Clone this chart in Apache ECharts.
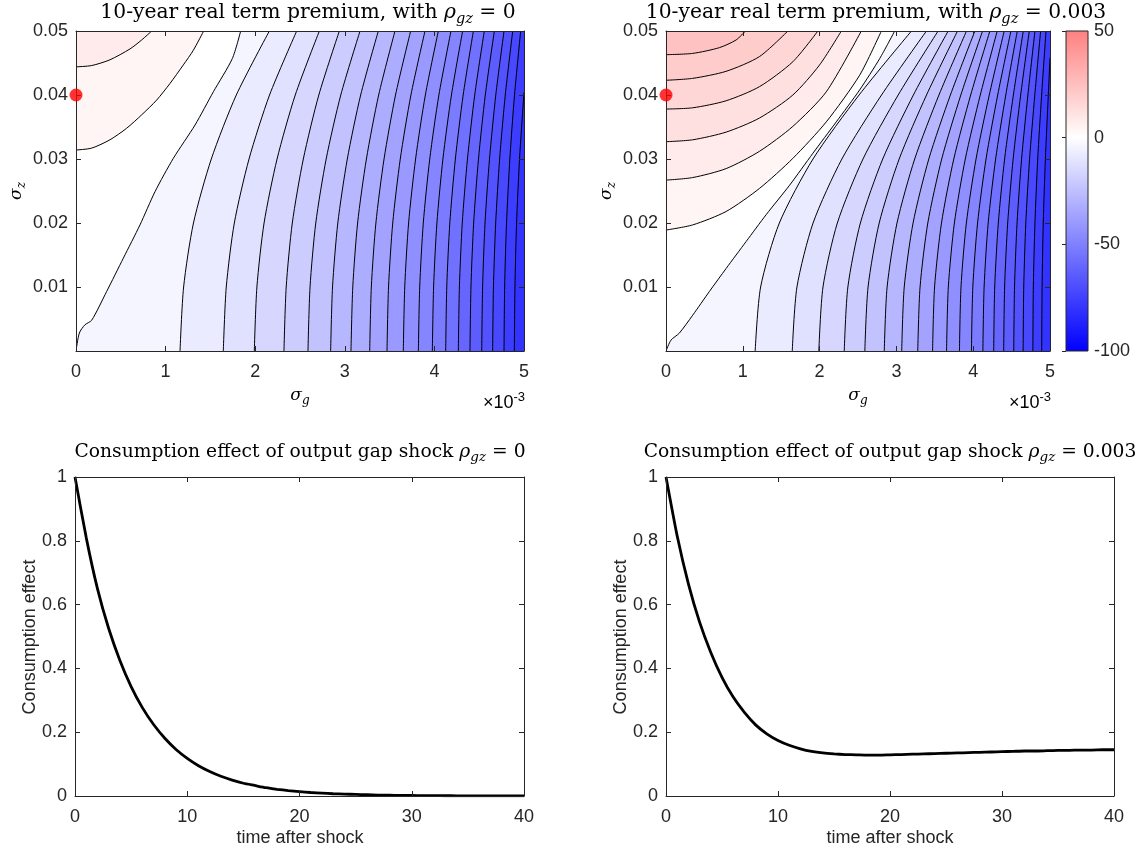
<!DOCTYPE html>
<html><head><meta charset="utf-8">
<script src="https://cdn.jsdelivr.net/npm/echarts@6/dist/echarts.min.js"></script>
<style>html,body{margin:0;padding:0;background:#fff}#c{width:1141px;height:852px}</style>
</head><body><div id="c"></div><script>
// ================= DATA =================
// sigma_g axis is in units of 1e-3 (as labelled "x10^-3")
const sigmaGRange = [0, 5];
const sigmaZRange = [0, 0.05];
const colorbarRange = [-100, 50];
const calibPoint = [0, 0.04];

// ---- 10-year real term premium, rho_gz = 0 : contour lines ([sigma_g, sigma_z]) ----
const negLevels0 = [0,-4,-8,-12,-16,-20,-24,-28,-32,-36,-40,-44,-48,-52,-56,-60,-64,-68,-72,-76];
const negLines0 = [
 [[0,0],[0.037,0.0028],[0.100,0.0041],[0.175,0.0048],[0.342,0.0093],[0.528,0.0145],[0.714,0.0197],[0.882,0.0249],[1.086,0.0301],[1.328,0.0353],[1.533,0.0405],[1.745,0.0457],[1.838,0.05]],
 [[1.161,0],[1.201,0.01],[1.311,0.02],[1.510,0.03],[1.789,0.04],[2.158,0.05]],
 [[1.644,0],[1.677,0.01],[1.767,0.02],[1.931,0.03],[2.160,0.04],[2.463,0.05]],
 [[1.990,0],[2.019,0.01],[2.099,0.02],[2.244,0.03],[2.447,0.04],[2.716,0.05]],
 [[2.321,0],[2.346,0.01],[2.414,0.02],[2.537,0.03],[2.710,0.04],[2.939,0.05]],
 [[2.589,0],[2.612,0.01],[2.676,0.02],[2.792,0.03],[2.955,0.04],[3.170,0.05]],
 [[2.842,0],[2.863,0.01],[2.922,0.02],[3.028,0.03],[3.177,0.04],[3.374,0.05]],
 [[3.069,0],[3.089,0.01],[3.143,0.02],[3.241,0.03],[3.378,0.04],[3.560,0.05]],
 [[3.278,0],[3.296,0.01],[3.347,0.02],[3.438,0.03],[3.566,0.04],[3.735,0.05]],
 [[3.471,0],[3.488,0.01],[3.535,0.02],[3.619,0.03],[3.738,0.04],[3.895,0.05]],
 [[3.653,0],[3.669,0.01],[3.712,0.02],[3.790,0.03],[3.899,0.04],[4.044,0.05]],
 [[3.821,0],[3.836,0.01],[3.876,0.02],[3.948,0.03],[4.050,0.04],[4.185,0.05]],
 [[3.977,0],[3.991,0.01],[4.028,0.02],[4.095,0.03],[4.190,0.04],[4.315,0.05]],
 [[4.126,0],[4.138,0.01],[4.172,0.02],[4.234,0.03],[4.321,0.04],[4.435,0.05]],
 [[4.267,0],[4.279,0.01],[4.311,0.02],[4.369,0.03],[4.450,0.04],[4.557,0.05]],
 [[4.397,0],[4.408,0.01],[4.438,0.02],[4.492,0.03],[4.568,0.04],[4.669,0.05]],
 [[4.528,0],[4.538,0.01],[4.565,0.02],[4.615,0.03],[4.685,0.04],[4.777,0.05]],
 [[4.650,0],[4.659,0.01],[4.684,0.02],[4.728,0.03],[4.791,0.04],[4.874,0.05]],
 [[4.777,0],[4.784,0.01],[4.805,0.02],[4.842,0.03],[4.894,0.04],[4.963,0.05]],
 [[4.892,0],[4.899,0.01],[4.917,0.02],[4.950,0.03],[4.998,0.04],[5.0,0.0404]]
];
const posLevels0 = [4, 8];
const posLines0 = [
 [[0,0.0314],[0.175,0.0317],[0.379,0.0330],[0.565,0.0348],[0.733,0.0369],[0.900,0.0392],[1.049,0.0418],[1.198,0.0447],[1.310,0.0470],[1.425,0.05]],
 [[0,0.0444],[0.175,0.0446],[0.379,0.0455],[0.603,0.0472],[0.733,0.0486],[0.845,0.05]]
];

// ---- 10-year real term premium, rho_gz = 0.003 : contour lines ----
const negLevels3 = [0,-4,-8,-12,-16,-20,-24,-28,-32,-36,-40,-44,-48,-52,-56,-60,-64,-68,-72,-76];
const negLines3 = [
 [[0,0],[0.065,0.0017],[0.174,0.0028],[0.348,0.0056],[0.565,0.0093],[0.783,0.0129],[1.043,0.0171],[1.304,0.0213],[1.609,0.0259],[1.913,0.0309],[2.217,0.0358],[2.522,0.0408],[2.783,0.0457],[2.978,0.05]],
 [[1.161,0],[1.232,0.01],[1.476,0.02],[1.914,0.03],[2.514,0.04],[3.196,0.05]],
 [[1.644,0],[1.705,0.01],[1.915,0.02],[2.290,0.03],[2.806,0.04],[3.391,0.05]],
 [[1.990,0],[2.044,0.01],[2.231,0.02],[2.565,0.03],[3.023,0.04],[3.543,0.05]],
 [[2.321,0],[2.368,0.01],[2.531,0.02],[2.822,0.03],[3.221,0.04],[3.674,0.05]],
 [[2.589,0],[2.631,0.01],[2.776,0.02],[3.036,0.03],[3.392,0.04],[3.796,0.05]],
 [[2.842,0],[2.879,0.01],[3.008,0.02],[3.238,0.03],[3.554,0.04],[3.913,0.05]],
 [[3.069,0],[3.102,0.01],[3.217,0.02],[3.422,0.03],[3.703,0.04],[4.022,0.05]],
 [[3.278,0],[3.308,0.01],[3.409,0.02],[3.590,0.03],[3.839,0.04],[4.122,0.05]],
 [[3.471,0],[3.497,0.01],[3.587,0.02],[3.747,0.03],[3.967,0.04],[4.217,0.05]],
 [[3.653,0],[3.676,0.01],[3.755,0.02],[3.897,0.03],[4.092,0.04],[4.313,0.05]],
 [[3.821,0],[3.841,0.01],[3.911,0.02],[4.037,0.03],[4.209,0.04],[4.404,0.05]],
 [[3.977,0],[3.995,0.01],[4.057,0.02],[4.167,0.03],[4.319,0.04],[4.491,0.05]],
 [[4.126,0],[4.142,0.01],[4.195,0.02],[4.292,0.03],[4.424,0.04],[4.574,0.05]],
 [[4.267,0],[4.280,0.01],[4.327,0.02],[4.409,0.03],[4.523,0.04],[4.652,0.05]],
 [[4.397,0],[4.409,0.01],[4.449,0.02],[4.520,0.03],[4.618,0.04],[4.730,0.05]],
 [[4.528,0],[4.538,0.01],[4.571,0.02],[4.630,0.03],[4.712,0.04],[4.804,0.05]],
 [[4.650,0],[4.658,0.01],[4.685,0.02],[4.734,0.03],[4.802,0.04],[4.878,0.05]],
 [[4.777,0],[4.783,0.01],[4.804,0.02],[4.840,0.03],[4.891,0.04],[4.948,0.05]],
 [[4.892,0],[4.897,0.01],[4.912,0.02],[4.940,0.03],[4.978,0.04],[5.0,0.0458]]
];
const posLevels3 = [4, 8, 12, 16, 20, 24];
const posLines3 = [
 [[0,0.0189],[0.348,0.0197],[0.783,0.0218],[1.217,0.0254],[1.652,0.0301],[2.087,0.0358],[2.522,0.0431],[2.804,0.05]],
 [[0,0.0267],[0.348,0.0271],[0.783,0.0285],[1.217,0.0312],[1.652,0.0351],[2.087,0.0405],[2.543,0.05]],
 [[0,0.0327],[0.348,0.0330],[0.783,0.0342],[1.217,0.0364],[1.652,0.0400],[2.0,0.0447],[2.283,0.05]],
 [[0,0.0378],[0.348,0.0380],[0.783,0.0391],[1.217,0.0413],[1.652,0.0452],[1.978,0.05]],
 [[0,0.0423],[0.348,0.0426],[0.783,0.0437],[1.217,0.0460],[1.587,0.05]],
 [[0,0.0463],[0.348,0.0465],[0.696,0.0474],[0.913,0.0486],[1.035,0.05]]
];

// ---- Consumption effect of output gap shock ----
const timeAfterShock = [0,1,2,3,4,5,6,7,8,9,10,11,12,13,14,15,16,17,18,19,20,21,22,23,24,25,26,27,28,29,30,31,32,33,34,35,36,37,38,39,40];
const consEffect0 = [1.0,0.81,0.65,0.525,0.425,0.343,0.277,0.224,0.181,0.146,0.118,0.095,0.077,0.062,0.050,0.040,0.033,0.026,0.021,0.017,0.014,0.011,0.009,0.007,0.006,0.005,0.004,0.003,0.0025,0.002,0.0016,0.0013,0.001,0.0008,0.0007,0.0005,0.0004,0.0003,0.0003,0.0002,0.0002];
const consEffect3 = [1.0,0.815,0.665,0.545,0.45,0.372,0.31,0.262,0.223,0.195,0.174,0.159,0.148,0.140,0.135,0.132,0.130,0.129,0.128,0.128,0.129,0.130,0.131,0.132,0.133,0.134,0.135,0.136,0.137,0.138,0.139,0.140,0.141,0.141,0.142,0.143,0.143,0.144,0.144,0.145,0.145];

// ================= STYLE / LAYOUT =================
const SERIF = "'DejaVu Serif', serif";
const SANS = "'Liberation Sans', Arial, Helvetica, sans-serif";
const INK = '#262626';
const cmap = ['#0000ff','#4040ff','#8080ff','#bfbfff','#ffffff','#ffbfbf','#ff8080']; // -100 .. 50
const TICK_FS = 18;

const grids = [
  {left:76, top:31, width:448, height:320},
  {left:666, top:31, width:384, height:320},
  {left:75, top:477, width:449, height:319},
  {left:666, top:477, width:448, height:319},
  {left:1066, top:31, width:22, height:320}
];

function axis(dim, gi, min, max, interval, mirror, fmt) {
  return {
    type:'value', gridIndex:gi, min:min, max:max, interval:interval, z:5,
    position: dim === 'x' ? (mirror ? 'top' : 'bottom') : (mirror ? 'right' : 'left'),
    axisLine:{show:true, onZero:false, lineStyle:{color:INK, width:1}},
    axisTick:{show:true, inside:true, length:5, lineStyle:{color:INK, width:1}},
    splitLine:{show:false},
    axisLabel:{show:!mirror, color:INK, fontFamily:SANS, fontSize:TICK_FS, margin: dim==='x'?12:8, formatter:fmt}
  };
}
const fmtG = v => String(v);
const fmtZ = v => v === 0 ? '' : v.toFixed(2);
const fmtC = v => String(+v.toFixed(1));

const xAxes = [
  axis('x',0,sigmaGRange[0],sigmaGRange[1],1,false,fmtG), axis('x',0,sigmaGRange[0],sigmaGRange[1],1,true),
  axis('x',1,sigmaGRange[0],sigmaGRange[1],1,false,fmtG), axis('x',1,sigmaGRange[0],sigmaGRange[1],1,true),
  axis('x',2,0,40,10,false,fmtG), axis('x',2,0,40,10,true),
  axis('x',3,0,40,10,false,fmtG), axis('x',3,0,40,10,true),
  {type:'value', gridIndex:4, min:0, max:1, show:false}
];
const yAxes = [
  axis('y',0,sigmaZRange[0],sigmaZRange[1],0.01,false,fmtZ), axis('y',0,sigmaZRange[0],sigmaZRange[1],0.01,true),
  axis('y',1,sigmaZRange[0],sigmaZRange[1],0.01,false,fmtZ), axis('y',1,sigmaZRange[0],sigmaZRange[1],0.01,true),
  axis('y',2,0,1,0.2,false,fmtC), axis('y',2,0,1,0.2,true),
  axis('y',3,0,1,0.2,false,fmtC), axis('y',3,0,1,0.2,true),
  Object.assign(axis('y',4,colorbarRange[0],colorbarRange[1],50,false,v=>String(v)),
    {position:'right', axisLine:{show:false}, axisTick:{show:true, inside:true, length:4, lineStyle:{color:INK}},
     axisLabel:{color:INK, fontFamily:SANS, fontSize:TICK_FS, margin:6}})
];

// Build filled-contour bands (painter's order) from contour lines
function buildBands(negLevels, negLines, posLevels, posLines) {
  const polys = [], vals = [];
  negLines.forEach((ln, i) => {           // region below level -> bottom-right side
    const p = ln.slice(); const last = p[p.length-1];
    if (last[1] >= sigmaZRange[1] - 1e-9) p.push([sigmaGRange[1], sigmaZRange[1]]);
    p.push([sigmaGRange[1], sigmaZRange[0]]);
    polys.push(p); vals.push(negLevels[i] - 4);
  });
  posLines.forEach((ln, i) => {           // region above level -> top-left corner
    const p = ln.slice(); p.push([sigmaGRange[0], sigmaZRange[1]]);
    polys.push(p); vals.push(posLevels[i]);
  });
  return {polys, vals};
}
const bands0 = buildBands(negLevels0, negLines0, posLevels0, posLines0);
const bands3 = buildBands(negLevels3, negLines3, posLevels3, posLines3);

function fillSeries(ax, bands) {
  return {
    type:'custom', xAxisIndex:ax, yAxisIndex:ax, clip:true, z:2, silent:true,
    data: bands.vals.map((v,i) => [i, v]),
    renderItem: (params, api) => {
      const poly = bands.polys[params.dataIndex];
      const c = api.visual('color');
      return {type:'polygon', shape:{points: poly.map(p => api.coord(p))},
              style:{fill:c, stroke:c, lineWidth:0.6}};
    }
  };
}
function lineSeries(ax, lines) {
  return {
    type:'custom', xAxisIndex:ax, yAxisIndex:ax, clip:true, z:3, silent:true,
    data: lines.map((l,i) => [i, 0]),
    renderItem: (params, api) => ({
      type:'polyline', shape:{points: lines[params.dataIndex].map(p => api.coord(p)), smooth:0.25},
      style:{stroke:'#000', lineWidth:1, fill:null}
    })
  };
}
function dotSeries(ax) {
  return {type:'scatter', xAxisIndex:ax, yAxisIndex:ax, data:[calibPoint], symbolSize:13,
          itemStyle:{color:'#ff0000'}, clip:false, z:20, silent:true};
}
function consSeries(ax, vals) {
  return {type:'line', xAxisIndex:ax, yAxisIndex:ax, data: timeAfterShock.map((t,i)=>[t, vals[i]]),
          symbol:'none', smooth:0.2, lineStyle:{color:'#000', width:2.8}, z:4, silent:true};
}

const series = [
  fillSeries(0, bands0), lineSeries(0, negLines0.concat(posLines0)), dotSeries(0),
  fillSeries(2, bands3), lineSeries(2, negLines3.concat(posLines3)), dotSeries(2),
  consSeries(4, consEffect0), consSeries(6, consEffect3),
  {type:'custom', xAxisIndex:8, yAxisIndex:8, silent:true, z:2, data:[[0.5, 0]],
   renderItem: (params, api) => {
     const tl = api.coord([0, colorbarRange[1]]), br = api.coord([1, colorbarRange[0]]);
     const stops = cmap.slice().reverse().map((c,i,arr) => ({offset: i/(arr.length-1), color:c}));
     return {type:'rect', shape:{x:tl[0], y:tl[1], width:br[0]-tl[0], height:br[1]-tl[1]},
             style:{fill: new echarts.graphic.LinearGradient(0,0,0,1,stops), stroke:INK, lineWidth:1}};
   }}
];

function mathRich(fs, subFs, subPad) {
  return {
    r:{fontFamily:SERIF, fontSize:fs, color:'#000'},
    i:{fontFamily:SERIF, fontSize:fs, fontStyle:'italic', color:'#000'},
    s:{fontFamily:SERIF, fontSize:subFs, fontStyle:'italic', color:'#000', padding:[subPad,0,0,0]}
  };
}
function txt(x, y, text, rich, opts) {
  return Object.assign({type:'text', x:x, y:y, z:50, silent:true,
    style:{text:text, rich:rich, fill:'#000', align:'center', verticalAlign:'middle', textAlign:'center', textVerticalAlign:'middle'}}, opts||{});
}
const topRich = mathRich(20.3, 14.5, 12);
const botRich = mathRich(18.7, 13.5, 11);
const symRich = mathRich(17, 12, 10);
const sansStyle = (t) => ({text:t, fontFamily:SANS, fontSize:TICK_FS, fill:INK, align:'center', verticalAlign:'middle', textAlign:'center', textVerticalAlign:'middle'});
const supRich = {b:{fontFamily:SANS, fontSize:TICK_FS, color:INK}, p:{fontFamily:SANS, fontSize:13, color:INK, padding:[0,0,12,0]}};
const expStyle = {text:'{b|×10}{p|-3}', rich:supRich, align:'right', verticalAlign:'middle', textAlign:'right', textVerticalAlign:'middle'};

const graphic = [
  txt(308, 13, '{r|10-year real term premium, with }{i|ρ}{s|gz}{r| = 0}', topRich),
  txt(876, 13, '{r|10-year real term premium, with }{i|ρ}{s|gz}{r| = 0.003}', topRich),
  txt(300, 452, '{r|Consumption effect of output gap shock }{i|ρ}{s|gz}{r| = 0}', botRich),
  txt(890, 452, '{r|Consumption effect of output gap shock }{i|ρ}{s|gz}{r| = 0.003}', botRich),
  txt(300, 396, '{i|σ}{s|g}', symRich),
  txt(858, 396, '{i|σ}{s|g}', symRich),
  txt(17, 191, '{i|σ}{s|z}', symRich, {rotation: Math.PI/2}),
  txt(607, 191, '{i|σ}{s|z}', symRich, {rotation: Math.PI/2}),
  {type:'text', x:525, y:403, z:50, silent:true, style:expStyle},
  {type:'text', x:1051, y:403, z:50, silent:true, style:expStyle},
  {type:'text', x:30, y:637, rotation:Math.PI/2, z:50, silent:true, style:sansStyle('Consumption effect')},
  {type:'text', x:621, y:637, rotation:Math.PI/2, z:50, silent:true, style:sansStyle('Consumption effect')},
  {type:'text', x:300, y:838, z:50, silent:true, style:sansStyle('time after shock')},
  {type:'text', x:890, y:838, z:50, silent:true, style:sansStyle('time after shock')}
];

const chart = echarts.init(document.getElementById('c'), null, {renderer:'canvas'});
chart.setOption({
  animation:false,
  backgroundColor:'#ffffff',
  grid: grids.map(g => Object.assign({containLabel:false}, g)),
  xAxis: xAxes,
  yAxis: yAxes,
  visualMap: {type:'continuous', show:false, min:colorbarRange[0], max:colorbarRange[1], dimension:1,
              seriesIndex:[0,3], inRange:{color:cmap}},
  series: series,
  graphic: graphic
});
</script></body></html>
